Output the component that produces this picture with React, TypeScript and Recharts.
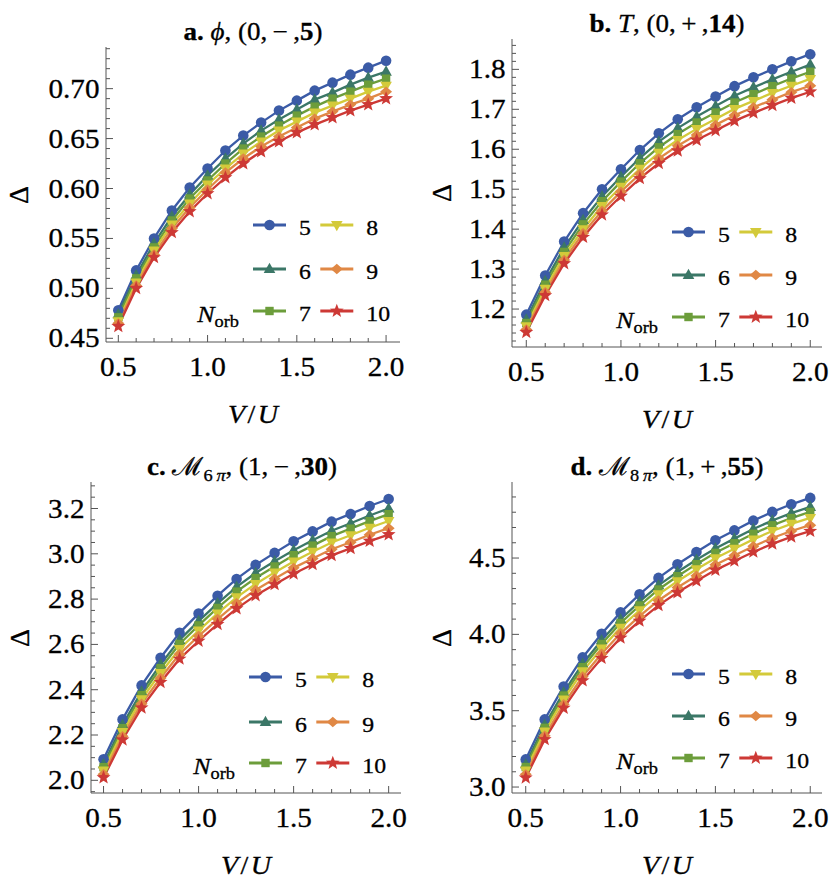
import React from 'react';
import { LineChart, Line, XAxis, YAxis, Legend } from 'recharts';

const FONT = "'Liberation Serif', 'Times New Roman', 'DejaVu Serif', serif";
const FRAME = '#555555';
const SX = 1.08; // horizontal stretch of the reference lettering

// shared x grid and series styling
const vu = [0.5, 0.6, 0.7, 0.8, 0.9, 1.0, 1.1, 1.2, 1.3, 1.4, 1.5, 1.6, 1.7, 1.8, 1.9, 2.0];
const norb = [5, 6, 7, 8, 9, 10];
const colors = ['#3b5ba6', '#3b7767', '#6c9d3b', '#d3ca3a', '#e08845', '#cd3935'];
const shapes = ['circle', 'triangle', 'square', 'down', 'diamond', 'star'];

// a. phi, (0,-,5)
const phi5 = [0.478, 0.518, 0.550, 0.578, 0.601, 0.620, 0.638, 0.653, 0.666, 0.678, 0.688, 0.698, 0.706, 0.714, 0.721, 0.728];
const phi6 = [0.474, 0.513, 0.545, 0.572, 0.594, 0.613, 0.630, 0.645, 0.658, 0.669, 0.679, 0.689, 0.696, 0.704, 0.711, 0.717];
const phi7 = [0.471, 0.510, 0.541, 0.568, 0.590, 0.608, 0.625, 0.640, 0.652, 0.663, 0.673, 0.682, 0.690, 0.697, 0.704, 0.710];
const phi8 = [0.467, 0.506, 0.538, 0.564, 0.585, 0.604, 0.620, 0.635, 0.647, 0.658, 0.667, 0.676, 0.683, 0.690, 0.697, 0.703];
const phi9 = [0.465, 0.503, 0.534, 0.560, 0.581, 0.599, 0.616, 0.630, 0.642, 0.652, 0.661, 0.670, 0.677, 0.684, 0.690, 0.697];
const phi10 = [0.462, 0.500, 0.531, 0.556, 0.577, 0.595, 0.611, 0.625, 0.637, 0.647, 0.656, 0.664, 0.671, 0.678, 0.684, 0.690];

// b. T, (0,+,14)
const t5 = [1.186, 1.284, 1.369, 1.440, 1.500, 1.550, 1.598, 1.640, 1.675, 1.705, 1.732, 1.758, 1.780, 1.800, 1.820, 1.838];
const t6 = [1.174, 1.270, 1.354, 1.423, 1.482, 1.531, 1.578, 1.619, 1.653, 1.682, 1.708, 1.734, 1.755, 1.775, 1.794, 1.812];
const t7 = [1.165, 1.261, 1.343, 1.412, 1.470, 1.519, 1.565, 1.605, 1.638, 1.667, 1.692, 1.717, 1.738, 1.758, 1.777, 1.794];
const t8 = [1.157, 1.251, 1.333, 1.400, 1.458, 1.506, 1.551, 1.591, 1.623, 1.651, 1.676, 1.701, 1.721, 1.741, 1.759, 1.776];
const t9 = [1.149, 1.242, 1.323, 1.390, 1.446, 1.494, 1.538, 1.577, 1.609, 1.636, 1.661, 1.685, 1.705, 1.724, 1.743, 1.759];
const t10 = [1.142, 1.234, 1.314, 1.380, 1.436, 1.483, 1.527, 1.565, 1.596, 1.623, 1.647, 1.671, 1.691, 1.710, 1.728, 1.744];

// c. M_6pi, (1,-,30)
const m6pi5 = [2.093, 2.269, 2.419, 2.541, 2.651, 2.736, 2.815, 2.889, 2.951, 3.004, 3.055, 3.099, 3.142, 3.176, 3.211, 3.242];
const m6pi6 = [2.071, 2.245, 2.392, 2.512, 2.620, 2.703, 2.781, 2.854, 2.915, 2.967, 3.016, 3.060, 3.102, 3.135, 3.169, 3.200];
const m6pi7 = [2.058, 2.230, 2.376, 2.495, 2.602, 2.684, 2.761, 2.833, 2.893, 2.944, 2.994, 3.036, 3.078, 3.111, 3.144, 3.175];
const m6pi8 = [2.043, 2.213, 2.358, 2.474, 2.580, 2.661, 2.737, 2.808, 2.867, 2.918, 2.966, 3.009, 3.050, 3.082, 3.115, 3.145];
const m6pi9 = [2.027, 2.195, 2.338, 2.452, 2.557, 2.637, 2.712, 2.782, 2.840, 2.890, 2.938, 2.979, 3.020, 3.051, 3.084, 3.113];
const m6pi10 = [2.012, 2.179, 2.320, 2.433, 2.536, 2.615, 2.689, 2.758, 2.816, 2.865, 2.912, 2.953, 2.993, 3.024, 3.056, 3.085];

// d. M_8pi, (1,+,55)
const m8pi5 = [3.181, 3.443, 3.659, 3.849, 4.004, 4.144, 4.262, 4.370, 4.459, 4.540, 4.616, 4.681, 4.745, 4.802, 4.852, 4.894];
const m8pi6 = [3.149, 3.408, 3.621, 3.808, 3.961, 4.099, 4.215, 4.321, 4.409, 4.489, 4.563, 4.627, 4.690, 4.746, 4.794, 4.835];
const m8pi7 = [3.131, 3.388, 3.599, 3.785, 3.937, 4.074, 4.189, 4.294, 4.381, 4.460, 4.534, 4.597, 4.659, 4.714, 4.762, 4.802];
const m8pi8 = [3.109, 3.364, 3.574, 3.758, 3.908, 4.044, 4.158, 4.262, 4.348, 4.426, 4.499, 4.561, 4.622, 4.677, 4.724, 4.763];
const m8pi9 = [3.083, 3.336, 3.543, 3.724, 3.873, 4.007, 4.119, 4.222, 4.307, 4.384, 4.456, 4.517, 4.577, 4.631, 4.677, 4.715];
const m8pi10 = [3.061, 3.312, 3.517, 3.697, 3.844, 3.977, 4.088, 4.190, 4.274, 4.350, 4.421, 4.481, 4.540, 4.593, 4.638, 4.676];

// ticks (minor + major)
const xTicks = [0.5, 0.6, 0.7, 0.8, 0.9, 1.0, 1.1, 1.2, 1.3, 1.4, 1.5, 1.6, 1.7, 1.8, 1.9, 2.0];
const xMajor = [0.5, 1.0, 1.5, 2.0];
const phiTicks = [0.45, 0.46, 0.47, 0.48, 0.49, 0.5, 0.51, 0.52, 0.53, 0.54, 0.55, 0.56, 0.57, 0.58, 0.59, 0.6,
  0.61, 0.62, 0.63, 0.64, 0.65, 0.66, 0.67, 0.68, 0.69, 0.7, 0.71, 0.72, 0.73, 0.74];
const phiMajor = [0.45, 0.5, 0.55, 0.6, 0.65, 0.7];
const tTicks = [1.12, 1.14, 1.16, 1.18, 1.2, 1.22, 1.24, 1.26, 1.28, 1.3, 1.32, 1.34, 1.36, 1.38, 1.4, 1.42, 1.44,
  1.46, 1.48, 1.5, 1.52, 1.54, 1.56, 1.58, 1.6, 1.62, 1.64, 1.66, 1.68, 1.7, 1.72, 1.74, 1.76, 1.78, 1.8, 1.82, 1.84, 1.86];
const tMajor = [1.2, 1.3, 1.4, 1.5, 1.6, 1.7, 1.8];
const m6piTicks = [1.95, 2.0, 2.05, 2.1, 2.15, 2.2, 2.25, 2.3, 2.35, 2.4, 2.45, 2.5, 2.55, 2.6, 2.65, 2.7, 2.75,
  2.8, 2.85, 2.9, 2.95, 3.0, 3.05, 3.1, 3.15, 3.2, 3.25, 3.3];
const m6piMajor = [2.0, 2.2, 2.4, 2.6, 2.8, 3.0, 3.2];
const m8piTicks = [3.0, 3.1, 3.2, 3.3, 3.4, 3.5, 3.6, 3.7, 3.8, 3.9, 4.0, 4.1, 4.2, 4.3, 4.4, 4.5, 4.6, 4.7, 4.8, 4.9];
const m8piMajor = [3.0, 3.5, 4.0, 4.5];

const YW = 70; // left axis room
const XH = 50; // bottom axis room
const MT = 10;
const MR = 10;
const LW = 230;
const LH = 140;

const panels = [
  {
    id: 'a', series: [phi5, phi6, phi7, phi8, phi9, phi10],
    plot: { x0: 106, y0: 47, x1: 400, y1: 342 },
    xDomain: [0.431, 2.078], yDomain: [0.4463, 0.7417],
    yTicks: phiTicks, yMajor: phiMajor, digits: 2,
    legend: { col1: -147, rows: [-117, -73, -31] },
    titleY: 40, delta: [18, 195],
  },
  {
    id: 'b', series: [t5, t6, t7, t8, t9, t10],
    plot: { x0: 512, y0: 39, x1: 822, y1: 347 },
    xDomain: [0.4245, 2.062], yDomain: [1.105, 1.876],
    yTicks: tTicks, yMajor: tMajor, digits: 1,
    legend: { col1: -150, rows: [-115, -72, -30] },
    titleY: 32, delta: [441, 193],
  },
  {
    id: 'c', series: [m6pi5, m6pi6, m6pi7, m6pi8, m6pi9, m6pi10],
    plot: { x0: 91, y0: 482, x1: 401, y1: 793 },
    xDomain: [0.434, 2.065], yDomain: [1.944, 3.317],
    yTicks: m6piTicks, yMajor: m6piMajor, digits: 1,
    legend: { col1: -152, rows: [-116, -71, -30] },
    titleY: 475, delta: [19, 638],
  },
  {
    id: 'd', series: [m8pi5, m8pi6, m8pi7, m8pi8, m8pi9, m8pi10],
    plot: { x0: 512, y0: 482, x1: 822, y1: 793 },
    xDomain: [0.4276, 2.062], yDomain: [2.961, 4.998],
    yTicks: m8piTicks, yMajor: m8piMajor, digits: 1,
    legend: { col1: -150, rows: [-119, -77, -35] },
    titleY: 475, delta: [441, 638],
  },
];

function SText({ x, y, size, anchor = 'start', children, style }: any) {
  return (
    <text transform={`translate(${x},${y}) scale(${SX},1)`} fontSize={size} fontFamily={FONT}
      textAnchor={anchor} fill="#000" stroke="#000" strokeWidth={0.3} style={style}>
      {children}
    </text>
  );
}

function Marker({ shape, cx, cy, color }: any) {
  if (cx == null || cy == null) return null;
  switch (shape) {
    case 'circle':
      return <circle cx={cx} cy={cy} r={5.3} fill={color} />;
    case 'triangle':
      return <polygon points={`${cx},${cy - 6.3} ${cx + 5.8},${cy + 4} ${cx - 5.8},${cy + 4}`} fill={color} />;
    case 'square':
      return <rect x={cx - 4.2} y={cy - 4.2} width={8.4} height={8.4} fill={color} />;
    case 'down':
      return <polygon points={`${cx},${cy + 6.3} ${cx + 5.8},${cy - 4} ${cx - 5.8},${cy - 4}`} fill={color} />;
    case 'diamond':
      return <polygon points={`${cx},${cy - 5.2} ${cx + 6},${cy} ${cx},${cy + 5.2} ${cx - 6},${cy}`} fill={color} />;
    default: {
      const pts: string[] = [];
      for (let i = 0; i < 10; i++) {
        const r = i % 2 === 0 ? 7.3 : 3.1;
        const a = -Math.PI / 2 + (i * Math.PI) / 5;
        pts.push(`${cx + r * Math.cos(a)},${cy + r * Math.sin(a)}`);
      }
      return <polygon points={pts.join(' ')} fill={color} />;
    }
  }
}

const isMajor = (v: number, majors: number[]) => majors.some((m) => Math.abs(m - v) < 1e-6);

const bottomTick = (p: any) => {
  const v = p.payload.value;
  const major = isMajor(v, xMajor);
  return (
    <g>
      <line x1={p.x} x2={p.x} y1={p.y} y2={p.y - (major ? 7 : 4)} stroke={FRAME} />
      {major && <SText x={p.x} y={p.y + 34} size={27} anchor="middle">{v.toFixed(1)}</SText>}
    </g>
  );
};

const topTick = (p: any) => {
  const major = isMajor(p.payload.value, xMajor);
  return <line x1={p.x} x2={p.x} y1={p.y} y2={p.y + (major ? 7 : 4)} stroke={FRAME} />;
};

const leftTick = (majors: number[], digits: number) => (p: any) => {
  const v = p.payload.value;
  const major = isMajor(v, majors);
  return (
    <g>
      <line x1={p.x} x2={p.x + (major ? 7 : 4)} y1={p.y} y2={p.y} stroke={FRAME} />
      {major && <SText x={p.x - 6.5} y={p.y + 9} size={27} anchor="end">{v.toFixed(digits)}</SText>}
    </g>
  );
};

const rightTick = (majors: number[]) => (p: any) => {
  const major = isMajor(p.payload.value, majors);
  return <line x1={p.x} x2={p.x - (major ? 7 : 4)} y1={p.y} y2={p.y} stroke={FRAME} />;
};

function LegendBox({ lg }: any) {
  return (
    <svg width={LW} height={LH} style={{ overflow: 'visible' }}>
      {norb.map((n, k) => {
        const col = k < 3 ? 0 : 1;
        const y = LH + lg.rows[k % 3];
        const x0 = LW + lg.col1 + col * 67.3;
        return (
          <g key={n}>
            <line x1={x0} x2={x0 + 33} y1={y} y2={y} stroke={colors[k]} strokeWidth={3} />
            <Marker shape={shapes[k]} cx={x0 + 16.5} cy={y} color={colors[k]} />
            <SText x={x0 + 46} y={y + 10} size={22}>{n}</SText>
          </g>
        );
      })}
      <SText x={LW + lg.col1 - 14} y={LH + lg.rows[2] + 11} size={24} anchor="end">
        <tspan fontStyle="italic">N</tspan>
        <tspan fontSize={17} dy={5}>orb</tspan>
      </SText>
    </svg>
  );
}

function Panel({ cfg }: any) {
  const { plot } = cfg;
  const pw = plot.x1 - plot.x0;
  const ph = plot.y1 - plot.y0;
  const data = vu.map((x, i) => {
    const row: any = { x };
    norb.forEach((n, k) => { row['n' + n] = cfg.series[k][i]; });
    return row;
  });
  const axisCommon = { type: 'number' as const, allowDataOverflow: true, interval: 0, tickSize: 0, tickMargin: 0, tickLine: false, axisLine: { stroke: FRAME } };
  return (
    <div style={{ position: 'absolute', left: plot.x0 - YW, top: plot.y0 - MT }}>
      <LineChart width={pw + YW + MR} height={ph + MT + XH} data={data}
        margin={{ top: MT, right: MR, bottom: 0, left: 0 }}>
        <XAxis dataKey="x" {...axisCommon} domain={cfg.xDomain} ticks={xTicks} height={XH} tick={bottomTick} />
        <XAxis xAxisId="top" orientation="top" dataKey="x" {...axisCommon} domain={cfg.xDomain} ticks={xTicks} height={0} tick={topTick} />
        <YAxis {...axisCommon} domain={cfg.yDomain} ticks={cfg.yTicks} width={YW} tick={leftTick(cfg.yMajor, cfg.digits)} />
        <YAxis yAxisId="right" orientation="right" {...axisCommon} domain={cfg.yDomain} ticks={cfg.yTicks} width={0} tick={rightTick(cfg.yMajor)} />
        {norb.map((n, k) => (
          <Line key={n} dataKey={'n' + n} name={String(n)} stroke={colors[k]} strokeWidth={2.3}
            isAnimationActive={false} activeDot={false}
            dot={(p: any) => <Marker key={p.index} shape={shapes[k]} cx={p.cx} cy={p.cy} color={colors[k]} />} />
        ))}
        <Legend layout="vertical" align="center" verticalAlign="middle"
          wrapperStyle={{ left: YW + pw - LW, top: MT + ph - LH, width: LW, height: LH }}
          content={() => <LegendBox lg={cfg.legend} />} />
      </LineChart>
    </div>
  );
}

function Titles() {
  const [a, b, c, d] = panels;
  const mid = (p: any) => (p.plot.x0 + p.plot.x1) / 2;
  const axisLabels = panels.map((p) => (
    <g key={p.id}>
      <text transform={`translate(${p.delta[0]},${p.delta[1]}) rotate(-90)`} textAnchor="middle"
        dominantBaseline="central" fontSize={28} fontFamily={FONT} stroke="#000" strokeWidth={0.3}>Δ</text>
      <SText x={mid(p)} y={p.plot.y1 + 81} size={26} anchor="middle">
        <tspan fontStyle="italic">V</tspan>{'\u200a/\u200a'}<tspan fontStyle="italic">U</tspan>
      </SText>
    </g>
  ));
  return (
    <svg width={830} height={885} style={{ position: 'absolute', left: 0, top: 0, pointerEvents: 'none' }}>
      <SText x={mid(a)} y={a.titleY} size={25} anchor="middle">
        <tspan fontWeight="bold">a.</tspan>{' '}<tspan fontStyle="italic">ϕ</tspan>{', (0,\u2009−\u2009,'}
        <tspan fontWeight="bold">5</tspan>{')'}
      </SText>
      <SText x={mid(b)} y={b.titleY} size={25} anchor="middle">
        <tspan fontWeight="bold">b.</tspan>{' '}<tspan fontStyle="italic">T</tspan>{', (0,\u2009+\u2009,'}
        <tspan fontWeight="bold">14</tspan>{')'}
      </SText>
      <SText x={mid(c) - 4} y={c.titleY} size={25} anchor="middle">
        <tspan fontWeight="bold">c.</tspan>{' ℳ'}<tspan fontSize={17} dy={6}>6<tspan fontStyle="italic">{'\u2009π'}</tspan></tspan>
        <tspan dy={-6}>{', (1,\u2009−\u2009,'}</tspan><tspan fontWeight="bold">30</tspan>{')'}
      </SText>
      <SText x={mid(d)} y={d.titleY} size={25} anchor="middle">
        <tspan fontWeight="bold">d.</tspan>{' ℳ'}<tspan fontSize={17} dy={6}>8<tspan fontStyle="italic">{'\u2009π'}</tspan></tspan>
        <tspan dy={-6}>{', (1,\u2009+\u2009,'}</tspan><tspan fontWeight="bold">55</tspan>{')'}
      </SText>
      {axisLabels}
    </svg>
  );
}

export default function App() {
  return (
    <div style={{ position: 'absolute', left: 0, top: 0, width: 830, height: 885, background: '#fff', fontFamily: FONT }}>
      {panels.map((p) => <Panel key={p.id} cfg={p} />)}
      <Titles />
    </div>
  );
}
